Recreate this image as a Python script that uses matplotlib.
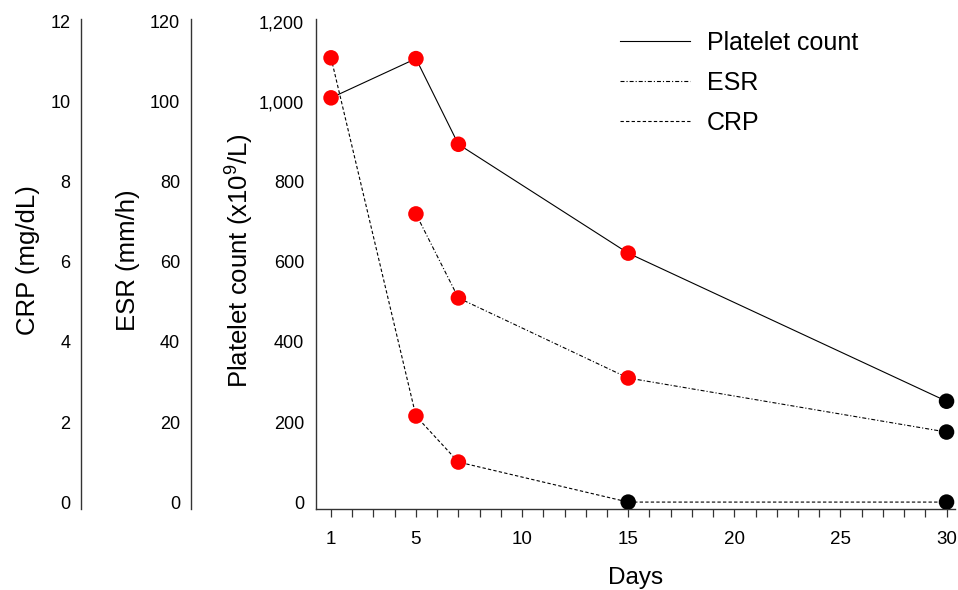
import matplotlib
matplotlib.use("Agg")
import matplotlib.pyplot as plt
from matplotlib.lines import Line2D
from matplotlib.ticker import StrMethodFormatter

plt.rcParams['font.family'] = ['Liberation Sans', 'DejaVu Sans']

# data
plt_days = [1, 5, 7, 15, 30]
platelet = [1010, 1108, 894, 622, 252]
platelet_colors = ['red', 'red', 'red', 'red', 'black']

esr_days = [5, 7, 15, 30]
esr = [72, 51, 31, 17.5]
esr_colors = ['red', 'red', 'red', 'black']

crp_days = [1, 5, 7, 15, 30]
crp = [11.1, 2.15, 1.0, 0, 0]
crp_colors = ['red', 'red', 'red', 'black', 'black']

x_labelled = [1, 5, 10, 15, 20, 25, 30]
x_all = list(range(1, 31))

spine_col = '#333333'
esr_style = (0, (3.6, 1.8, 1.0, 1.8))
crp_style = (0, (3.0, 2.0))

fig = plt.figure(figsize=(9.58, 5.90), dpi=100)
ax = fig.add_axes([0.3296, 0.1368, 0.6673, 0.831])
ax_esr = ax.twinx()
ax_crp = ax.twinx()

ax.set_xlim(0.28, 30.4)
ax.set_ylim(-18, 1207)
ax_esr.set_ylim(-1.8, 120.7)
ax_crp.set_ylim(-0.18, 12.07)

# lines then dots
ax.plot(plt_days, platelet, color='black', lw=0.8, zorder=2)
ax.scatter(plt_days, platelet, c=platelet_colors, s=125, zorder=3, linewidths=0)
ax_esr.plot(esr_days, esr, color='black', lw=0.8, linestyle=esr_style, zorder=2)
ax_esr.scatter(esr_days, esr, c=esr_colors, s=125, zorder=3, linewidths=0)
ax_crp.plot(crp_days, crp, color='black', lw=0.8, linestyle=crp_style, zorder=2)
ax_crp.scatter(crp_days, crp, c=crp_colors, s=125, zorder=3, linewidths=0)

# main axes
for s in ['top', 'right']:
    ax.spines[s].set_visible(False)
for s in ['left', 'bottom']:
    ax.spines[s].set_color(spine_col)
    ax.spines[s].set_linewidth(1.0)
ax.set_yticks([0, 200, 400, 600, 800, 1000, 1200])
ax.yaxis.set_major_formatter(StrMethodFormatter('{x:,.0f}'))
ax.tick_params(axis='y', length=0, pad=8.4, labelsize=13)
ax.set_xticks(x_labelled)
ax.set_xticks(x_all, minor=True)
ax.set_xticklabels([str(d) for d in x_labelled])
ax.tick_params(axis='x', which='both', direction='out', length=5.8, width=0.9,
               color=spine_col, labelsize=13.5, pad=9.5)
ax.set_xlabel('Days', fontsize=17.5, labelpad=14)
ax.set_ylabel(r'Platelet count (x10$^{\mathregular{9}}$/L)', fontsize=18.5)
ax.yaxis.set_label_coords(-0.0955, 0.508)

# offset axes for ESR and CRP
for a, pos, ticks, label, lx in [
        (ax_esr, -0.1955, [0, 20, 40, 60, 80, 100, 120], 'ESR (mm/h)', -0.2755),
        (ax_crp, -0.367, [0, 2, 4, 6, 8, 10, 12], 'CRP (mg/dL)', -0.432)]:
    for s in ['top', 'right', 'bottom']:
        a.spines[s].set_visible(False)
    a.spines['left'].set_visible(True)
    a.spines['left'].set_position(('axes', pos))
    a.spines['left'].set_color(spine_col)
    a.spines['left'].set_linewidth(1.0)
    a.yaxis.set_ticks_position('left')
    a.yaxis.set_label_position('left')
    a.set_yticks(ticks)
    a.tick_params(axis='y', length=0, pad=7.7, labelsize=13)
    a.set_ylabel(label, fontsize=18.5)
    a.yaxis.set_label_coords(lx, 0.508)

handles = [Line2D([], [], color='black', lw=0.8),
           Line2D([], [], color='black', lw=0.8, linestyle=esr_style),
           Line2D([], [], color='black', lw=0.8, linestyle=crp_style)]
fig.legend(handles, ['Platelet count', 'ESR', 'CRP'], loc='upper left',
           bbox_to_anchor=(620 / 958, 1 - 31 / 590), frameon=False, fontsize=18,
           handlelength=2.8, handletextpad=0.68, labelspacing=0.64,
           borderpad=0, borderaxespad=0)

fig.savefig('out.png', dpi=100)
